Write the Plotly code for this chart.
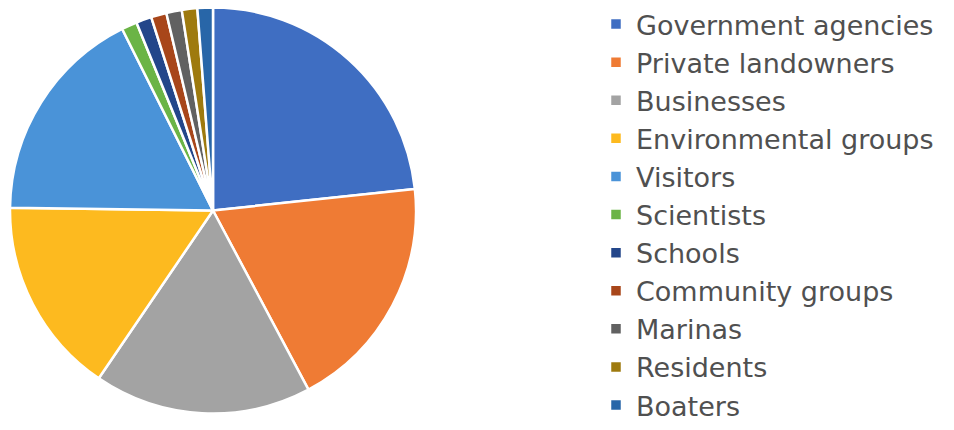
import plotly.graph_objects as go

# Stakeholder shares (percent)
groups = [
    "Government agencies", "Private landowners", "Businesses",
    "Environmental groups", "Visitors", "Scientists", "Schools",
    "Community groups", "Marinas", "Residents", "Boaters",
]
shares = [23.3, 18.9, 17.3, 15.7, 17.4, 1.23, 1.23, 1.23, 1.23, 1.23, 1.23]
colors = [
    "#3F6EC2", "#EF7B34", "#A3A3A3", "#FDBA1F", "#4A93D8", "#6BB446",
    "#23468A", "#A8461A", "#616161", "#9E7A0E", "#2866A8",
]

fig = go.Figure(go.Pie(
    labels=groups,
    values=shares,
    sort=False,
    direction="clockwise",
    rotation=0,
    textinfo="none",
    hoverinfo="label+percent",
    marker=dict(colors=colors, line=dict(color="white", width=2.5)),
    domain=dict(x=[10 / 954, 416 / 954], y=[1 - 414 / 430, 1 - 7 / 430]),
))

fig.update_layout(
    width=954, height=430,
    margin=dict(l=0, r=0, t=0, b=0),
    paper_bgcolor="white",
    showlegend=True,
    legend=dict(
        x=596 / 954, y=1 - 11 / 430, xanchor="left", yanchor="top",
        font=dict(family="DejaVu Sans, sans-serif", size=27, color="#505050"),
        tracegroupgap=0, itemclick=False,
    ),
)

fig.write_html("out.html")
